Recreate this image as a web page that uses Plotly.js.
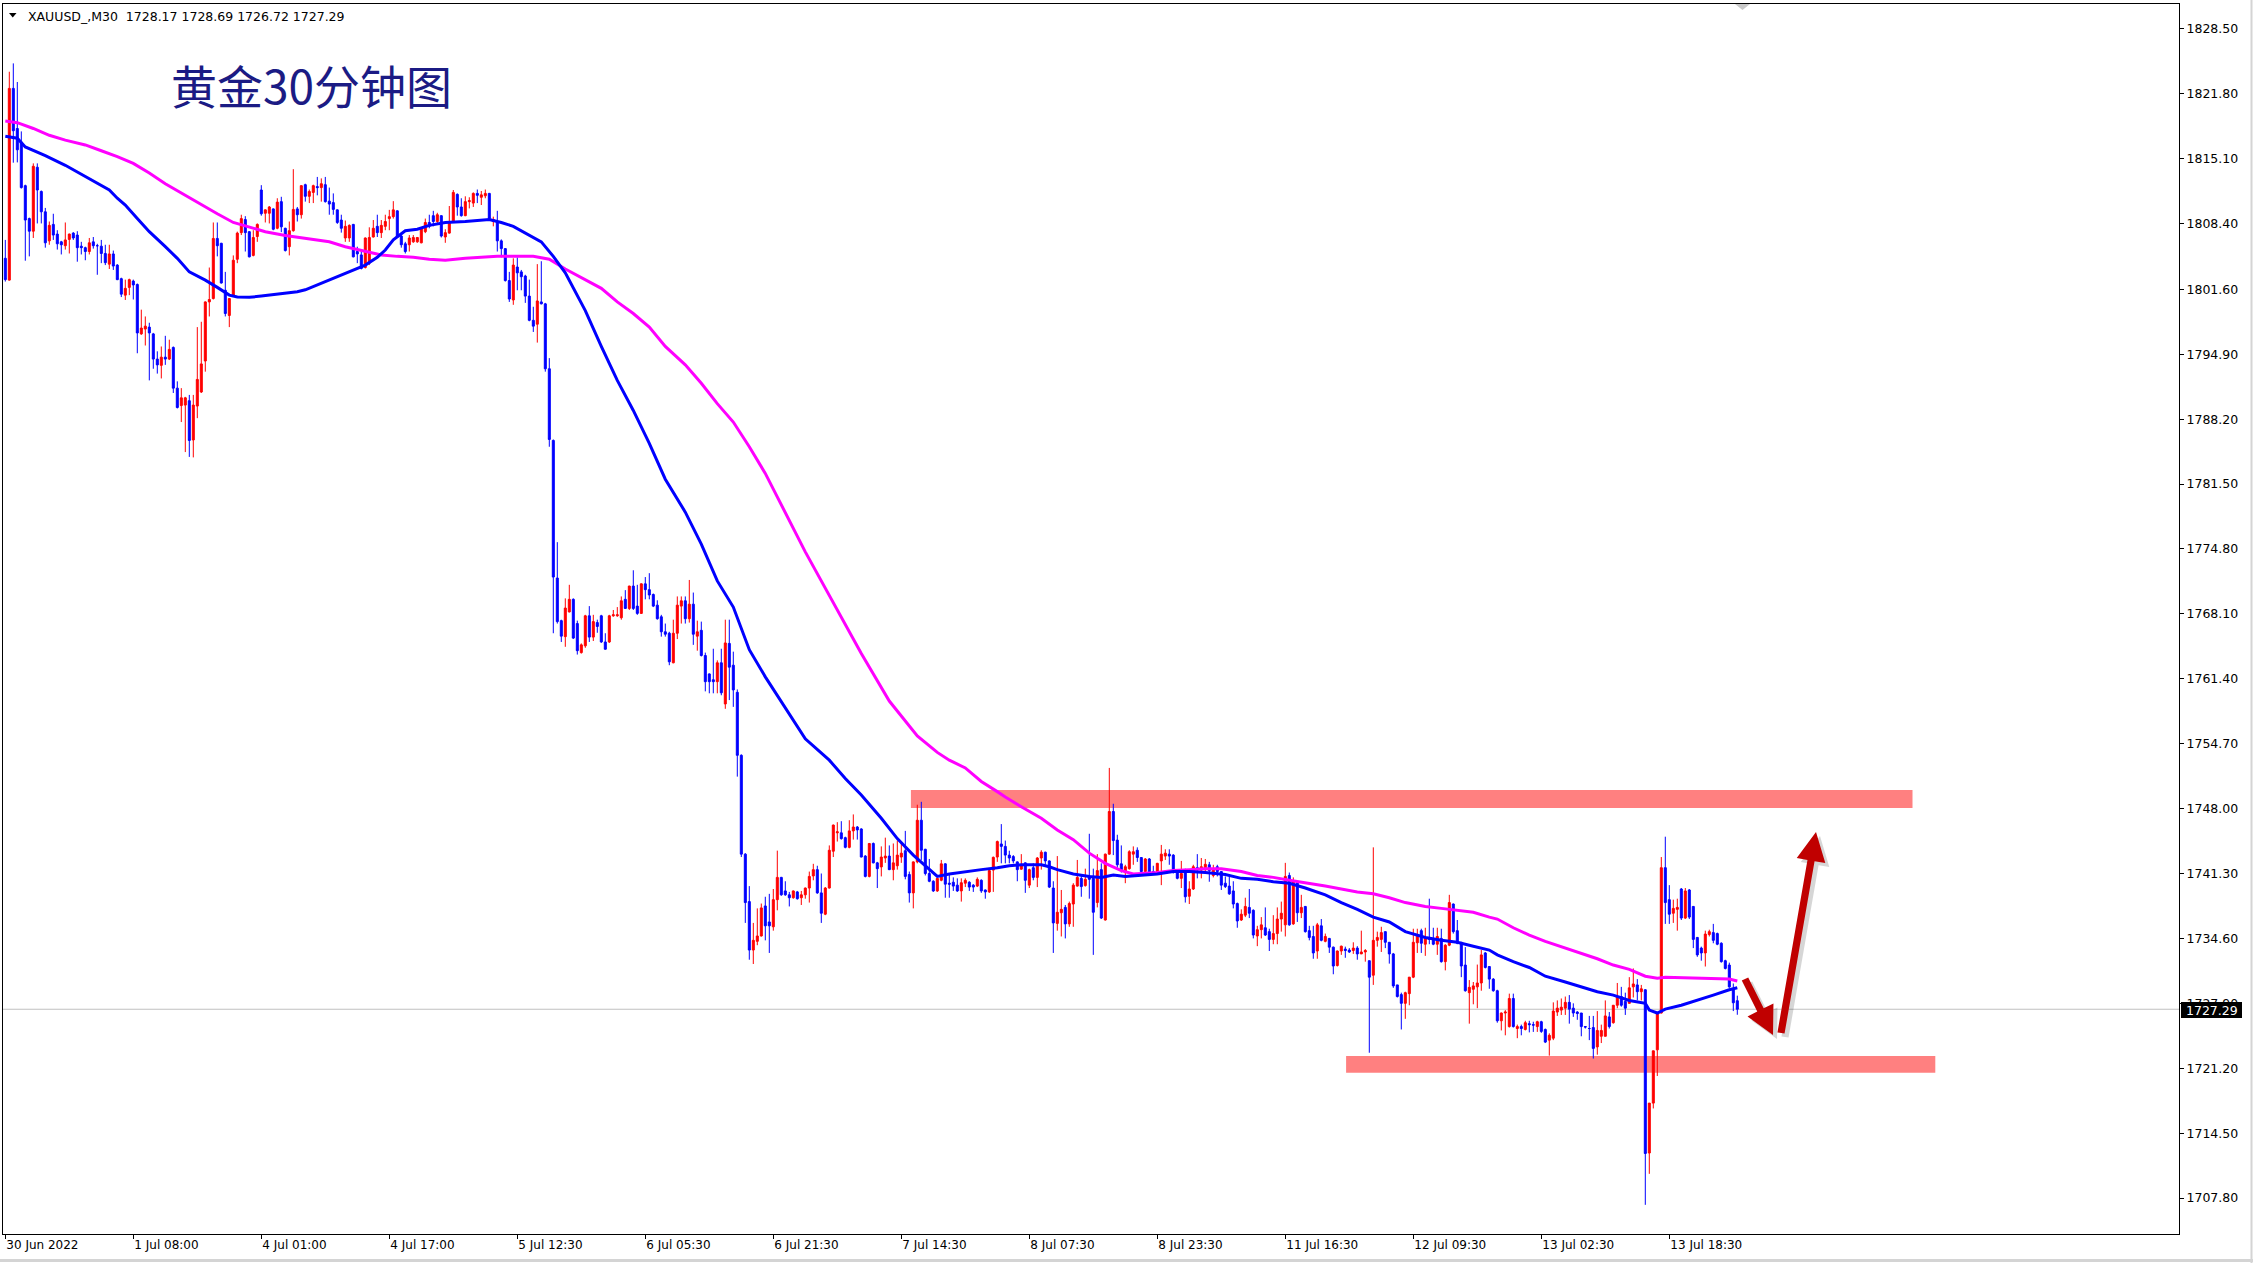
<!DOCTYPE html>
<html><head><meta charset="utf-8">
<script src="https://cdn.plot.ly/plotly-3.0.1.min.js"></script>
<style>html,body{margin:0;padding:0;background:#fff;overflow:hidden}#chart{width:2253px;height:1263px}</style>
</head><body><div id="chart"></div>
<script>
// ---- data (XAUUSD M30, one value per 30-minute bar) ----
const openP = [
1804.8,1802.55,1822.34,1818.2,1816.8,1812.3,1808.9,1807.6,1814.2,1811.7,
1809.6,1806.6,1808.3,1807.3,1806.5,1806.1,1806.75,1807.4,1807.2,1806.05,
1805.9,1805.5,1806.5,1806.1,1806.05,1805.3,1804.2,1805.25,1804.1,1802.7,
1801.0,1801.8,1802.45,1802.1,1797.0,1797.5,1797.7,1797.0,1794.4,1793.75,
1794.6,1794.4,1795.6,1791.4,1789.6,1789.65,1790.1,1786.05,1789.55,1791.0,
1794.2,1800.3,1800.65,1806.85,1806.35,1801.5,1798.9,1801.0,1804.7,1807.45,
1808.8,1807.55,1805.1,1807.05,1811.85,1809.45,1809.45,1809.9,1807.9,1810.65,
1807.9,1806.0,1807.65,1809.9,1809.3,1812.4,1811.2,1811.6,1812.2,1812.1,
1812.4,1810.7,1810.55,1809.8,1808.75,1806.9,1806.9,1808.3,1805.5,1805.15,
1803.85,1804.3,1807.0,1808.1,1807.45,1808.1,1808.9,1809.1,1809.7,1807.1,
1806.3,1806.2,1806.5,1806.5,1806.4,1807.55,1808.5,1809.2,1808.6,1809.2,
1807.0,1807.4,1808.6,1811.4,1810.1,1809.2,1810.65,1810.5,1811.5,1811.1,
1811.25,1811.5,1808.6,1808.6,1806.6,1805.8,1802.5,1800.5,1803.9,1803.4,
1802.97,1800.9,1798.4,1798.0,1800.3,1800.1,1793.4,1786.0,1771.8,1767.4,
1765.75,1768.3,1769.6,1767.1,1764.1,1764.8,1767.9,1765.7,1767.2,1767.9,
1765.2,1765.2,1767.9,1767.9,1767.7,1769.6,1768.66,1770.97,1768.9,1768.15,
1771.2,1770.6,1770.1,1769.0,1767.8,1766.25,1766.1,1763.05,1766.1,1768.9,
1769.45,1767.6,1769.1,1765.8,1766.4,1763.8,1761.9,1761.3,1761.1,1763.05,
1758.8,1765.05,1762.8,1760.0,1753.5,1743.3,1738.4,1733.4,1734.3,1734.85,
1737.95,1736.3,1735.8,1738.6,1740.9,1739.5,1739.1,1738.8,1739.4,1738.8,
1739.1,1739.8,1741.05,1741.7,1739.3,1737.1,1739.8,1743.6,1745.5,1745.5,
1745.0,1744.0,1745.7,1746.1,1745.9,1743.1,1741.0,1744.4,1742.4,1741.98,
1742.9,1743.1,1741.7,1742.1,1743.0,1743.65,1741.2,1739.3,1742.5,1746.8,
1743.8,1741.3,1740.5,1739.5,1740.6,1742.3,1740.3,1740.4,1740.1,1739.5,
1740.3,1740.4,1740.1,1740.0,1740.6,1739.6,1739.4,1741.65,1743.0,1744.35,
1744.1,1743.2,1743.05,1742.5,1741.75,1742.4,1740.1,1741.9,1740.9,1742.9,
1743.5,1742.6,1739.8,1736.15,1737.25,1737.8,1736.1,1738.15,1740.0,1740.8,
1740.05,1741.05,1740.8,1738.3,1741.7,1736.5,1743.3,1747.7,1744.75,1742.3,
1741.5,1741.8,1743.3,1743.7,1742.95,1741.5,1742.8,1741.5,1741.5,1742.6,
1743.1,1743.3,1743.2,1741.5,1740.8,1741.7,1738.95,1739.7,1741.9,1741.65,
1741.7,1742.2,1741.1,1742.0,1741.5,1740.3,1740.0,1739.5,1738.2,1736.5,
1737.0,1737.8,1737.5,1734.85,1735.5,1735.7,1735.3,1734.5,1735.1,1736.6,
1736.0,1741.1,1736.1,1740.35,1737.25,1737.9,1735.4,1734.8,1733.3,1735.9,
1734.3,1734.6,1733.7,1731.8,1733.3,1733.5,1733.4,1733.35,1733.6,1733.0,
1733.2,1732.3,1730.8,1734.4,1734.5,1735.3,1734.2,1733.0,1729.8,1728.8,
1727.9,1728.9,1730.6,1734.15,1735.4,1734.0,1734.7,1734.6,1734.0,1734.6,
1732.2,1733.9,1738.15,1735.4,1734.2,1731.85,1729.0,1729.35,1729.6,1730.0,
1733.1,1731.7,1730.4,1729.2,1726.1,1726.9,1725.5,1728.4,1725.3,1725.5,
1725.2,1725.8,1725.7,1725.5,1726.0,1725.2,1724.1,1724.3,1727.0,1727.2,
1727.4,1728.0,1727.4,1727.0,1726.9,1725.5,1725.3,1725.4,1723.4,1724.5,
1724.5,1726.5,1725.9,1727.7,1728.6,1728.1,1727.9,1729.6,1729.8,1729.1,
1729.3,1712.45,1717.6,1723.1,1726.9,1741.9,1738.6,1737.2,1737.6,1739.7,
1736.7,1739.6,1737.9,1734.7,1733.6,1733.1,1735.0,1735.2,1735.1,1734.1,
1732.3,1731.85,1729.4,1728.17];
const highP = [
1806.7,1824.06,1824.92,1823.0,1817.9,1812.4,1809.0,1814.6,1814.6,1811.8,
1810.0,1808.6,1809.4,1807.7,1806.6,1808.5,1807.35,1807.5,1807.6,1806.5,
1806.0,1806.9,1807.0,1806.3,1806.7,1806.2,1806.2,1805.6,1804.2,1802.8,
1802.6,1802.7,1802.6,1802.2,1799.5,1798.8,1798.15,1797.1,1795.2,1795.7,
1796.8,1796.4,1795.7,1792.1,1791.4,1790.5,1790.7,1790.7,1797.7,1798.25,
1800.35,1803.85,1808.5,1808.5,1806.4,1803.4,1800.7,1805.1,1807.55,1809.3,
1809.15,1807.6,1807.7,1808.4,1812.35,1809.85,1810.2,1809.95,1811.0,1811.15,
1807.95,1808.6,1814.0,1810.1,1812.35,1812.5,1811.9,1812.4,1813.2,1813.05,
1813.2,1812.1,1811.5,1809.85,1809.3,1808.7,1808.3,1808.35,1806.0,1805.5,
1806.95,1808.0,1808.75,1809.3,1808.75,1809.3,1809.8,1810.7,1809.75,1807.2,
1806.5,1807.2,1807.2,1807.0,1808.0,1808.9,1809.3,1809.7,1809.5,1809.25,
1807.8,1810.2,1811.85,1811.5,1811.0,1811.2,1811.1,1811.6,1811.9,1811.75,
1811.9,1811.55,1809.1,1809.7,1806.75,1805.85,1803.4,1804.8,1804.9,1803.6,
1803.1,1802.6,1799.8,1804.2,1804.5,1800.2,1794.5,1786.1,1775.5,1767.5,
1769.7,1771.1,1769.7,1767.4,1765.05,1768.0,1768.9,1768.0,1767.5,1768.0,
1766.1,1768.0,1768.5,1768.8,1769.9,1770.55,1771.0,1772.6,1771.1,1771.25,
1771.9,1772.3,1770.2,1769.5,1768.0,1767.1,1766.25,1767.5,1769.9,1769.9,
1769.9,1771.6,1770.3,1767.4,1767.3,1764.1,1761.95,1764.5,1763.3,1764.5,
1767.5,1767.5,1764.2,1760.3,1753.6,1743.4,1740.0,1736.2,1737.7,1738.2,
1738.9,1739.2,1739.7,1743.66,1740.95,1740.5,1739.4,1739.55,1739.5,1739.5,
1739.85,1741.5,1742.3,1742.1,1741.3,1739.9,1744.2,1746.35,1746.6,1746.7,
1745.1,1746.8,1747.4,1746.2,1745.97,1743.2,1744.45,1744.5,1742.5,1744.1,
1745.0,1744.2,1744.4,1744.7,1744.5,1745.7,1741.5,1742.55,1748.4,1748.7,
1743.85,1742.8,1740.6,1740.85,1742.7,1742.35,1741.3,1740.9,1740.8,1740.8,
1740.8,1740.5,1740.2,1740.9,1740.7,1739.65,1741.7,1743.05,1744.7,1746.4,
1744.7,1743.65,1743.2,1742.55,1743.3,1742.45,1741.8,1742.35,1743.0,1743.7,
1743.55,1742.65,1740.5,1743.1,1739.6,1738.05,1738.4,1740.3,1742.7,1741.05,
1741.8,1745.4,1741.8,1743.3,1742.35,1743.35,1752.2,1748.5,1745.3,1744.2,
1742.2,1743.7,1744.1,1744.0,1743.0,1742.9,1742.9,1742.1,1742.4,1744.25,
1743.8,1743.8,1743.3,1741.65,1742.6,1741.8,1740.5,1742.2,1743.3,1742.9,
1742.8,1742.5,1742.2,1742.2,1741.5,1741.0,1741.0,1740.5,1738.3,1737.6,
1738.8,1739.7,1737.6,1735.9,1736.8,1737.8,1735.6,1737.0,1737.8,1738.4,
1742.4,1741.4,1740.9,1740.45,1739.1,1737.95,1735.9,1735.9,1736.2,1736.6,
1735.1,1734.65,1733.75,1733.35,1733.85,1733.75,1733.6,1734.2,1733.8,1735.4,
1733.5,1732.3,1744.0,1735.3,1735.8,1735.3,1734.2,1733.1,1729.8,1729.0,
1729.1,1730.6,1735.6,1735.6,1735.6,1735.7,1738.7,1735.7,1735.7,1735.6,
1734.0,1739.1,1738.2,1736.5,1734.2,1733.7,1730.3,1730.1,1731.9,1733.4,
1733.2,1731.75,1730.5,1729.3,1726.95,1727.2,1728.9,1728.9,1725.7,1725.7,
1726.1,1726.1,1726.0,1726.1,1726.1,1725.3,1724.8,1728.0,1728.2,1728.4,
1728.6,1728.75,1727.9,1727.1,1726.9,1725.5,1726.6,1726.6,1727.1,1725.7,
1728.2,1727.0,1727.7,1730.0,1729.6,1729.0,1730.6,1731.5,1730.4,1729.8,
1729.35,1717.6,1723.0,1726.95,1743.0,1745.1,1740.1,1738.6,1738.7,1739.8,
1739.8,1739.7,1737.95,1734.75,1733.75,1735.4,1735.5,1736.1,1735.2,1734.2,
1732.4,1732.1,1729.95,1728.69];
const lowP = [
1802.4,1802.5,1814.67,1814.7,1812.0,1804.55,1805.0,1806.9,1808.4,1808.4,
1805.9,1806.2,1806.7,1805.7,1805.2,1805.7,1805.3,1806.7,1804.45,1805.2,
1804.6,1805.2,1805.8,1803.1,1804.3,1804.1,1803.7,1803.6,1802.55,1800.8,
1800.5,1801.0,1800.55,1795.0,1796.9,1795.8,1792.2,1793.4,1792.9,1792.4,
1793.8,1794.3,1790.9,1789.3,1787.9,1784.8,1784.3,1784.25,1788.3,1790.9,
1793.1,1798.8,1800.55,1805.0,1802.2,1798.8,1797.7,1800.95,1804.3,1807.2,
1805.5,1804.9,1805.0,1806.5,1809.2,1808.5,1808.4,1807.7,1807.8,1807.5,
1805.5,1805.1,1807.55,1808.6,1808.9,1810.65,1810.5,1810.5,1811.3,1810.65,
1810.55,1809.3,1809.3,1808.35,1807.45,1806.5,1806.5,1804.9,1804.3,1803.65,
1803.75,1804.1,1806.95,1807.0,1806.9,1807.7,1807.7,1808.9,1806.9,1805.9,
1805.3,1805.5,1806.4,1806.4,1806.35,1807.4,1807.9,1808.1,1808.35,1806.95,
1806.4,1807.35,1808.55,1809.2,1809.1,1809.15,1809.95,1810.1,1810.5,1810.3,
1811.0,1808.75,1808.1,1805.5,1804.9,1802.4,1800.3,1800.0,1801.5,1801.5,
1800.2,1798.3,1797.2,1796.1,1800.05,1793.1,1785.35,1766.1,1767.1,1765.2,
1764.7,1768.25,1765.5,1763.9,1764.0,1764.6,1765.2,1765.3,1766.15,1765.1,
1764.4,1765.1,1767.8,1767.8,1767.5,1768.6,1768.5,1768.5,1768.0,1768.1,
1769.6,1769.6,1768.8,1767.5,1765.75,1765.75,1762.8,1763.0,1765.5,1767.1,
1767.1,1767.2,1764.9,1764.3,1763.7,1760.1,1759.9,1759.9,1759.9,1759.7,
1758.3,1759.2,1758.5,1751.3,1743.0,1736.2,1732.4,1731.96,1733.9,1734.8,
1734.4,1733.1,1735.4,1737.5,1739.0,1739.0,1737.9,1738.7,1738.6,1738.05,
1738.7,1738.3,1740.6,1739.2,1736.2,1737.0,1739.75,1743.0,1744.6,1744.8,
1743.9,1743.9,1744.8,1744.8,1742.97,1740.9,1740.9,1742.35,1739.8,1741.0,
1742.4,1741.65,1740.6,1741.7,1742.4,1740.7,1738.3,1737.7,1742.35,1742.7,
1741.1,1740.4,1739.4,1739.4,1740.5,1738.8,1738.8,1739.5,1739.4,1738.4,
1739.9,1739.5,1739.4,1739.9,1739.3,1738.7,1739.3,1739.4,1742.5,1742.35,
1742.35,1742.35,1742.35,1740.5,1741.7,1739.3,1739.8,1740.6,1739.9,1741.7,
1742.2,1739.8,1733.1,1735.4,1734.8,1734.6,1735.8,1735.8,1739.95,1738.9,
1739.95,1738.7,1732.9,1737.8,1736.6,1736.45,1743.25,1743.2,1741.9,1741.4,
1740.3,1741.7,1742.2,1742.5,1741.4,1741.3,1741.25,1741.25,1741.3,1740.1,
1742.7,1742.2,1741.3,1740.7,1739.8,1738.3,1738.15,1739.6,1740.8,1740.8,
1741.25,1740.45,1740.9,1741.0,1739.6,1739.8,1739.1,1737.7,1735.7,1736.4,
1736.8,1736.7,1734.6,1733.8,1734.6,1734.85,1733.3,1734.0,1734.0,1735.3,
1734.8,1735.9,1736.0,1736.3,1736.7,1735.2,1734.4,1732.5,1732.5,1734.3,
1734.2,1733.1,1730.9,1731.7,1732.9,1732.6,1733.1,1733.0,1732.4,1733.0,
1732.2,1722.8,1729.8,1733.75,1733.2,1733.6,1732.0,1729.5,1728.5,1725.2,
1726.3,1727.7,1730.5,1733.1,1733.1,1732.8,1734.0,1733.9,1732.9,1732.1,
1731.3,1733.8,1735.1,1734.0,1730.6,1729.1,1725.8,1727.8,1727.4,1729.2,
1731.5,1729.4,1729.1,1725.9,1725.1,1724.6,1725.4,1725.4,1724.3,1724.6,
1725.1,1724.9,1724.95,1724.95,1724.85,1723.8,1722.5,1724.1,1726.6,1726.7,
1726.7,1725.8,1726.5,1726.2,1724.5,1725.3,1724.1,1722.2,1722.6,1723.8,
1724.5,1725.3,1725.8,1727.4,1727.55,1726.7,1727.9,1728.5,1728.2,1728.2,
1707.1,1710.3,1717.05,1720.4,1726.85,1736.1,1736.1,1736.2,1735.4,1736.5,
1736.6,1736.6,1733.6,1732.7,1732.3,1731.7,1734.8,1734.1,1733.9,1732.1,
1731.4,1729.5,1727.1,1726.72];
const closeP = [
1802.6,1822.34,1817.97,1816.0,1812.1,1808.75,1807.6,1814.3,1811.85,1809.6,
1806.4,1808.2,1807.2,1806.3,1806.2,1806.7,1807.3,1806.9,1805.9,1805.9,
1805.5,1806.4,1806.1,1806.1,1805.3,1804.35,1805.25,1804.0,1802.6,1801.1,
1801.7,1802.6,1802.05,1797.1,1797.6,1797.8,1797.1,1794.4,1793.8,1794.6,
1794.4,1795.4,1791.4,1789.4,1790.4,1790.4,1786.0,1789.65,1792.3,1793.9,
1800.3,1800.55,1806.85,1806.1,1802.25,1799.1,1800.65,1804.6,1807.4,1808.9,
1807.45,1804.95,1806.95,1808.3,1809.4,1809.8,1810.1,1807.8,1810.6,1808.05,
1805.6,1807.65,1809.85,1809.3,1812.3,1811.2,1811.7,1812.3,1812.1,1812.5,
1810.65,1810.4,1809.85,1808.5,1807.9,1808.1,1808.2,1804.95,1805.25,1803.75,
1806.9,1806.95,1807.9,1807.45,1808.2,1808.6,1809.1,1809.8,1807.0,1806.2,
1805.5,1806.9,1806.95,1806.95,1807.9,1808.5,1808.1,1808.6,1809.3,1807.1,
1807.45,1808.6,1811.6,1810.1,1809.2,1810.65,1810.75,1811.5,1811.3,1811.35,
1811.5,1808.9,1808.8,1806.6,1805.8,1802.5,1800.6,1804.1,1803.3,1802.9,
1800.9,1798.4,1797.8,1800.4,1800.1,1793.4,1786.1,1771.9,1767.3,1765.8,
1768.7,1769.6,1765.6,1764.3,1764.9,1767.9,1765.7,1767.3,1766.8,1765.2,
1764.45,1767.9,1768.0,1768.0,1769.45,1768.66,1770.97,1768.66,1768.15,1771.2,
1770.6,1770.05,1768.9,1767.6,1766.25,1766.0,1763.15,1766.1,1769.0,1769.45,
1767.6,1769.1,1766.0,1766.25,1763.8,1761.1,1761.1,1761.1,1763.05,1759.95,
1765.1,1762.6,1760.25,1753.5,1743.3,1738.3,1733.4,1734.4,1734.85,1737.75,
1735.9,1735.9,1738.6,1740.9,1739.1,1739.1,1738.8,1739.5,1738.7,1739.1,
1739.8,1741.0,1741.7,1739.3,1737.2,1739.8,1743.7,1746.3,1745.6,1744.9,
1744.0,1745.7,1746.1,1745.8,1743.0,1741.0,1744.4,1742.4,1741.8,1743.0,
1743.1,1741.7,1742.4,1743.2,1743.4,1741.0,1739.3,1742.5,1746.8,1743.7,
1741.3,1740.5,1739.5,1740.8,1742.3,1740.2,1740.2,1740.0,1739.5,1740.35,
1740.6,1739.9,1739.9,1740.7,1739.5,1739.4,1741.6,1742.97,1744.6,1744.1,
1743.2,1742.9,1742.6,1741.7,1742.2,1740.6,1741.7,1740.9,1742.9,1743.5,
1742.6,1739.9,1736.2,1737.3,1737.6,1736.1,1738.2,1740.1,1740.9,1739.95,
1740.7,1740.7,1737.3,1741.6,1736.7,1743.3,1747.7,1744.7,1742.2,1741.7,
1742.0,1743.55,1743.55,1742.95,1741.5,1742.8,1741.3,1741.3,1742.35,1743.3,
1743.4,1743.1,1741.5,1740.8,1741.3,1738.9,1739.7,1742.0,1741.7,1742.0,
1742.25,1741.6,1741.8,1741.5,1740.1,1739.95,1739.2,1738.15,1736.4,1737.1,
1737.9,1737.2,1734.95,1735.5,1736.0,1734.95,1734.5,1735.1,1736.6,1737.2,
1741.0,1736.0,1740.5,1737.25,1737.8,1735.3,1734.7,1733.1,1736.0,1734.4,
1734.8,1733.7,1731.75,1733.3,1733.8,1733.35,1733.2,1733.6,1733.0,1733.2,
1733.35,1730.6,1734.4,1734.7,1735.2,1734.2,1733.0,1729.7,1728.6,1727.9,
1729.0,1730.6,1734.2,1735.0,1734.1,1734.6,1734.5,1734.0,1734.8,1732.2,
1733.9,1738.3,1735.3,1734.1,1731.75,1729.2,1729.55,1729.7,1730.0,1732.9,
1731.6,1730.4,1729.2,1726.1,1726.9,1727.0,1728.4,1725.5,1725.5,1725.3,
1725.9,1725.7,1725.65,1726.0,1725.0,1723.9,1724.6,1727.1,1727.4,1727.5,
1728.0,1727.3,1726.9,1726.85,1725.5,1725.45,1725.3,1723.25,1725.1,1725.1,
1726.6,1725.5,1727.7,1728.6,1727.7,1727.4,1729.5,1729.9,1729.1,1729.4,
1712.4,1717.6,1723.0,1726.9,1741.9,1738.3,1737.1,1737.7,1737.8,1736.7,
1739.5,1736.8,1734.5,1732.9,1733.1,1735.05,1735.3,1734.4,1734.0,1732.2,
1731.5,1729.6,1727.96,1727.29];

// moving averages: [bar index, value]
const fastMA = [[0,1817.4],[3,1817.2],[5,1816.3],[8,1815.8],[10,1815.4],[15,1814.4],[20,1813.2],[23,1812.5],[26,1811.85],[28,1811.0],[30,1810.3],[33,1808.9],[36,1807.55],[40,1806.0],[43,1804.8],[46,1803.4],[50,1802.55],[53,1801.8],[56,1801.0],[58,1800.8],[61,1800.77],[64,1800.9],[68,1801.1],[73,1801.35],[75,1801.55],[80,1802.4],[85,1803.2],[90,1804.1],[93,1804.9],[95,1805.66],[97,1806.7],[100,1807.65],[103,1807.8],[106,1808.2],[110,1808.5],[115,1808.6],[121,1808.8],[124,1808.5],[127,1808.1],[130,1807.45],[134,1806.5],[137,1805.0],[140,1803.3],[145,1799.4],[149,1795.7],[153,1792.2],[157,1789.1],[161,1785.7],[165,1782.0],[170,1778.6],[174,1775.3],[178,1771.5],[182,1768.8],[186,1764.4],[190,1761.6],[200,1755.2],[206,1753.0],[210,1751.1],[214,1749.4],[219,1747.0],[223,1744.9],[227,1743.2],[231,1741.7],[233,1741.0],[236,1741.25],[240,1741.5],[244,1741.7],[248,1741.9],[251,1742.1],[254,1742.2],[259,1742.2],[261,1742.0],[263,1741.7],[267,1741.25],[271,1741.0],[274,1740.9],[277,1741.15],[280,1741.0],[284,1741.15],[288,1741.25],[292,1741.5],[296,1741.5],[300,1741.4],[305,1741.2],[309,1740.8],[313,1740.7],[317,1740.45],[321,1740.3],[325,1739.8],[330,1739.1],[334,1738.3],[338,1737.6],[342,1736.8],[346,1736.3],[350,1735.3],[355,1734.7],[359,1734.4],[363,1734.2],[367,1733.8],[371,1733.4],[373,1732.9],[377,1732.2],[381,1731.6],[385,1730.7],[390,1730.1],[394,1729.6],[398,1729.1],[402,1728.75],[406,1728.2],[410,1727.9],[411,1727.2],[413,1726.9],[415,1727.3],[419,1727.7],[423,1728.2],[427,1728.75],[431,1729.3],[433,1729.5]];
const slowMA = [[0,1818.97],[3,1818.8],[7,1818.2],[11,1817.5],[15,1817.0],[20,1816.5],[24,1815.9],[28,1815.3],[32,1814.6],[36,1813.6],[40,1812.5],[45,1811.3],[49,1810.3],[53,1809.4],[57,1808.5],[61,1808.0],[65,1807.55],[70,1807.15],[73,1806.96],[77,1806.76],[81,1806.5],[85,1806.0],[90,1805.5],[94,1805.14],[98,1805.0],[102,1804.9],[106,1804.7],[110,1804.6],[115,1804.8],[119,1804.9],[123,1805.0],[132,1805.0],[136,1804.7],[140,1803.7],[145,1802.6],[149,1801.7],[153,1800.3],[157,1799.1],[161,1797.7],[165,1795.7],[170,1793.8],[174,1791.9],[178,1789.8],[182,1787.9],[186,1785.35],[190,1782.6],[200,1774.5],[207,1769.2],[214,1764.0],[221,1759.1],[228,1755.5],[233,1753.8],[236,1753.0],[240,1752.2],[244,1750.8],[248,1749.75],[250,1749.2],[254,1748.2],[259,1747.0],[263,1745.8],[267,1744.8],[271,1743.4],[275,1742.35],[279,1741.6],[282,1741.25],[288,1741.4],[292,1741.6],[296,1741.7],[300,1741.8],[304,1741.8],[309,1741.5],[313,1741.1],[317,1740.9],[321,1740.6],[325,1740.35],[330,1740.0],[334,1739.7],[338,1739.4],[342,1739.2],[346,1738.8],[350,1738.3],[355,1737.9],[359,1737.7],[363,1737.5],[367,1737.3],[371,1736.8],[373,1736.6],[377,1735.7],[381,1734.95],[385,1734.3],[390,1733.6],[394,1733.1],[398,1732.5],[402,1731.85],[406,1731.4],[410,1730.7],[413,1730.5],[415,1730.6],[423,1730.5],[431,1730.4],[433,1730.2]];

const timeTickBars = [0,32,64,96,128,160,192,224,256,288,320,352,384,416];
const timeTickLabels = ['30 Jun 2022','1 Jul 08:00','4 Jul 01:00','4 Jul 17:00','5 Jul 12:30','6 Jul 05:30','6 Jul 21:30','7 Jul 14:30','8 Jul 07:30','8 Jul 23:30','11 Jul 16:30','12 Jul 09:30','13 Jul 02:30','13 Jul 18:30'];
const priceTicks = [1828.5,1821.8,1815.1,1808.4,1801.6,1794.9,1788.2,1781.5,1774.8,1768.1,1761.4,1754.7,1748.0,1741.3,1734.6,1727.9,1721.2,1714.5,1707.8];
const symbolName = 'XAUUSD_,M30';
const chartTitle = '黄金30分钟图';

// ---- drawing ----
const N = Math.min(openP.length, highP.length, lowP.length, closeP.length);
const bars = Array.from({length: N}, (_, i) => i);
const last = N - 1;

// pixel helpers for decorations (plot area 3..2179 x 4..1234)
const PL = 3, PR = 2179, PT = 4, PB = 1234;
const ppx = px => (px - PL) / (PR - PL);
const ppy = py => 1 - (py - PT) / (PB - PT);
const X_MIN = -0.575, X_MAX = 543.425, Y_MIN = 1704.09, Y_MAX = 1831.05;
const dx = px => X_MIN + (px - PL) / (PR - PL) * (X_MAX - X_MIN);
const dy = py => Y_MAX - (py - PT) / (PB - PT) * (Y_MAX - Y_MIN);

function arrowPath(x0, y0, x1, y1, s, hl, hh, off) {
  off = off || 0;
  const L = Math.hypot(x1 - x0, y1 - y0), ux = (x1 - x0) / L, uy = (y1 - y0) / L;
  const nx = -uy, ny = ux, bx = x1 - ux * hl, by = y1 - uy * hl;
  const pts = [[x0 + nx * s, y0 + ny * s], [bx + nx * s, by + ny * s], [bx + nx * hh, by + ny * hh], [x1, y1],
               [bx - nx * hh, by - ny * hh], [bx - nx * s, by - ny * s], [x0 - nx * s, y0 - ny * s]];
  return 'M ' + pts.map(p => dx(p[0] + off) + ',' + dy(p[1] + off)).join(' L ') + ' Z';
}

const traces = [
  {type: 'candlestick', x: bars, open: openP.slice(0, N), high: highP.slice(0, N), low: lowP.slice(0, N), close: closeP.slice(0, N),
   increasing: {line: {color: '#FF0000', width: 1}, fillcolor: '#FF0000'},
   decreasing: {line: {color: '#0000FF', width: 1}, fillcolor: '#0000FF'},
   whiskerwidth: 0, hoverinfo: 'skip', showlegend: false},
  {type: 'scatter', mode: 'lines', x: slowMA.map(p => p[0]), y: slowMA.map(p => p[1]),
   line: {color: '#FF00FF', width: 3}, hoverinfo: 'skip', showlegend: false},
  {type: 'scatter', mode: 'lines', x: fastMA.map(p => p[0]), y: fastMA.map(p => p[1]),
   line: {color: '#0000FF', width: 3}, hoverinfo: 'skip', showlegend: false}
];

const shapes = [
  // resistance / support zones
  {type: 'rect', xref: 'x', yref: 'y', x0: 226.4, x1: 476.8, y0: 1748.06, y1: 1749.92, fillcolor: '#FF8080', line: {width: 0}, layer: 'below'},
  {type: 'rect', xref: 'x', yref: 'y', x0: 335.2, x1: 482.5, y0: 1720.74, y1: 1722.46, fillcolor: '#FF8080', line: {width: 0}, layer: 'below'},
  // last price line
  {type: 'line', xref: 'paper', x0: 0, x1: 1, yref: 'y', y0: closeP[last], y1: closeP[last], line: {color: '#C0C0C0', width: 1}, layer: 'below'},
  // arrow shadows
  {type: 'path', xref: 'x', yref: 'y', path: arrowPath(1745, 979, 1773, 1035, 3.6, 28, 14.5, 4), fillcolor: 'rgba(0,0,0,0.16)', line: {width: 0}},
  {type: 'path', xref: 'x', yref: 'y', path: arrowPath(1781, 1033, 1816, 832, 3.6, 29, 14.5, 4), fillcolor: 'rgba(0,0,0,0.16)', line: {width: 0}},
  // arrows
  {type: 'path', xref: 'x', yref: 'y', path: arrowPath(1745, 979, 1773, 1035, 3.6, 28, 14.5), fillcolor: '#C00000', line: {width: 0}},
  {type: 'path', xref: 'x', yref: 'y', path: arrowPath(1781, 1033, 1816, 832, 3.6, 29, 14.5), fillcolor: '#C00000', line: {width: 0}},
  // header triangle
  {type: 'path', xref: 'paper', yref: 'paper', path: `M ${ppx(9)},${ppy(13)} L ${ppx(16.5)},${ppy(13)} L ${ppx(12.75)},${ppy(17.5)} Z`, fillcolor: '#000', line: {width: 0}},
  // chart shift marker
  {type: 'path', xref: 'paper', yref: 'paper', path: `M ${ppx(1735)},${ppy(4)} L ${ppx(1750)},${ppy(4)} L ${ppx(1742.5)},${ppy(10)} Z`, fillcolor: '#C8C8C8', line: {width: 0}},
  // price tag box
  {type: 'rect', xref: 'paper', yref: 'paper', x0: ppx(2181), x1: ppx(2242), y0: ppy(1018), y1: ppy(1002), fillcolor: '#000', line: {width: 0}},
  // outer window edges
  {type: 'line', xref: 'paper', yref: 'paper', x0: ppx(2251.5), x1: ppx(2251.5), y0: ppy(0), y1: ppy(1263), line: {color: '#D4D4D4', width: 2}},
  {type: 'line', xref: 'paper', yref: 'paper', x0: ppx(0), x1: ppx(2253), y0: ppy(1260.5), y1: ppy(1260.5), line: {color: '#D4D4D4', width: 3}}
];

const nb = '\u00a0';
const annotations = [
  {xref: 'paper', yref: 'paper', x: ppx(26), y: ppy(16.5), xanchor: 'left', yanchor: 'middle', showarrow: false,
   text: symbolName + nb + nb + [openP[last], highP[last], lowP[last], closeP[last]].map(v => v.toFixed(2)).join(nb),
   font: {family: 'DejaVu Sans, sans-serif', size: 12.5, color: '#000'}},
  {xref: 'paper', yref: 'paper', x: ppx(311), y: ppy(84), xanchor: 'center', yanchor: 'middle', showarrow: false,
   text: chartTitle, font: {family: 'Noto Sans CJK SC, sans-serif', size: 46, color: '#1B1B84'}},
  {xref: 'paper', yref: 'paper', x: ppx(2211.5), y: ppy(1010), xanchor: 'center', yanchor: 'middle', showarrow: false,
   text: closeP[last].toFixed(2), font: {family: 'DejaVu Sans, sans-serif', size: 12.5, color: '#fff'}}
];

const layout = {
  width: 2253, height: 1263,
  margin: {l: PL, r: 2253 - PR, t: PT, b: 1263 - PB, pad: 0, autoexpand: false},
  paper_bgcolor: '#fff', plot_bgcolor: '#fff', showlegend: false,
  boxgap: 0.5, boxgroupgap: 0,
  xaxis: {range: [X_MIN, X_MAX], rangeslider: {visible: false}, showgrid: false, zeroline: false,
    showline: true, linecolor: '#000', linewidth: 1, mirror: true,
    tickmode: 'array', tickvals: timeTickBars, ticktext: timeTickLabels,
    ticks: 'outside', ticklen: 4, tickcolor: '#000', ticklabelposition: 'outside right',
    tickfont: {family: 'DejaVu Sans, sans-serif', size: 12, color: '#000'}, fixedrange: true},
  yaxis: {range: [Y_MIN, Y_MAX], side: 'right', showgrid: false, zeroline: false,
    showline: true, linecolor: '#000', linewidth: 1, mirror: true,
    tickmode: 'array', tickvals: priceTicks, ticktext: priceTicks.map(v => v.toFixed(2)),
    ticks: 'outside', ticklen: 4, tickcolor: '#000',
    tickfont: {family: 'DejaVu Sans, sans-serif', size: 12.5, color: '#000'}, fixedrange: true},
  shapes: shapes, annotations: annotations
};

Plotly.newPlot('chart', traces, layout, {displayModeBar: false, staticPlot: true});
</script>
</body></html>
